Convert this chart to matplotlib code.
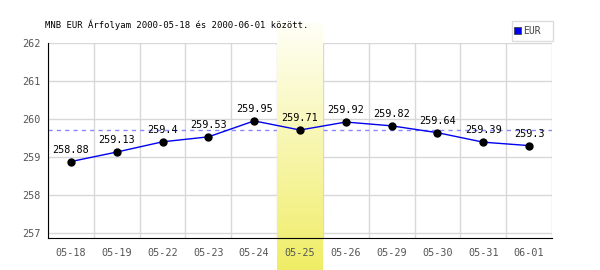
import matplotlib
matplotlib.use("Agg")
import matplotlib.pyplot as plt
import numpy as np
from matplotlib.patches import Rectangle

dates = ["05-18", "05-19", "05-22", "05-23", "05-24", "05-25", "05-26", "05-29", "05-30", "05-31", "06-01"]
values = [258.88, 259.13, 259.4, 259.53, 259.95, 259.71, 259.92, 259.82, 259.64, 259.39, 259.3]
labels = ["258.88", "259.13", "259.4", "259.53", "259.95", "259.71", "259.92", "259.82", "259.64", "259.39", "259.3"]
highlight = 5
yticks = [257, 258, 259, 260, 261, 262]
title = "MNB EUR Árfolyam 2000-05-18 és 2000-06-01 között."
series = "EUR"

plt.rcParams['font.family'] = ['DejaVu Sans Mono']

W, H = 600, 270
fig = plt.figure(figsize=(W/100, H/100), dpi=100)
fig.patch.set_facecolor("white")

def fx(p): return p / W
def fy(p): return 1 - p / H

ax = fig.add_axes([fx(48), fy(238), fx(552) - fx(48), fy(43) - fy(238)])
ax.set_facecolor("none")
n = len(dates)
x = np.arange(n)
ax.set_xlim(-0.5, n - 0.5)
ax.set_ylim(257 - 5/38, 262)

# grid
for k in range(n + 1):
    ax.axvline(k - 0.5, color="#d8d8d8", lw=1, zorder=0.5)
for v in yticks:
    ax.axhline(v, color="#d8d8d8", lw=1, zorder=0.5)

# highlight band gradient (extends beyond axes)
grad = np.linspace(0, 1, 256).reshape(-1, 1)
top = np.array([1.0, 1.0, 0.97])
bot = np.array([0.94, 0.93, 0.40])
img = top[None, None, :] * (1 - grad[:, :, None]) + bot[None, None, :] * grad[:, :, None]
inv = ax.transData.inverted()
_, ytop = inv.transform((0, H - 22))
_, ybot = inv.transform((0, 0))
ax.imshow(img, extent=(highlight - 0.5, highlight + 0.5, ybot, ytop), aspect="auto",
          zorder=1, clip_on=False)

# reference dashed line at highlighted value
ax.axhline(values[highlight], color="#8888ff", lw=1, ls=(0, (3, 3)), zorder=0.8)

ax.plot(x, values, color="#0000ee", lw=1, zorder=3)
ax.plot(x, values, "o", color="black", ms=5, zorder=4)
for xi, v, lab in zip(x, values, labels):
    ax.annotate(lab, (xi, v), xytext=(0, 5), textcoords="offset points",
                ha="center", va="bottom", fontsize=7.3, color="black", zorder=5)

ax.set_xticks(x)
ax.set_xticklabels(dates)
ax.set_yticks(yticks)
ax.tick_params(axis="both", length=0, labelsize=7.3, labelcolor="#555555")
ax.tick_params(axis="x", pad=7)
ax.tick_params(axis="y", pad=5)
for s in ["top", "right"]:
    ax.spines[s].set_visible(False)
ax.spines["left"].set_color("black")
ax.spines["bottom"].set_color("black")
ax.spines["left"].set_zorder(2.5)
ax.spines["bottom"].set_zorder(2.5)

fig.text(fx(45), fy(25), title, fontsize=6.4, color="black", ha="left", va="center")

# legend box
fig.add_artist(Rectangle((fx(512), fy(41)), fx(553) - fx(512), fy(21) - fy(41),
                         transform=fig.transFigure, facecolor="white", edgecolor="#dddddd", lw=1))
fig.add_artist(Rectangle((fx(514), fy(34)), fx(7), fy(0) - fy(7),
                         transform=fig.transFigure, facecolor="#0000ee", edgecolor="#333333", lw=0.5))
fig.text(fx(523), fy(31), series, fontsize=7.0, color="#444444", ha="left", va="center")

fig.savefig("out.png", dpi=100)
